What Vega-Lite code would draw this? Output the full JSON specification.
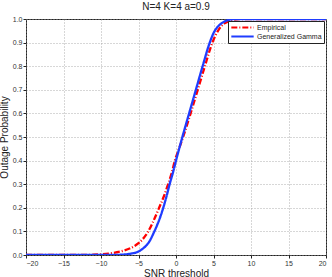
{
  "$schema": "https://vega.github.io/schema/vega-lite/v6.json",
  "width": 300,
  "height": 236,
  "autosize": {"type": "none"},
  "padding": {"left": 26, "top": 19, "right": 6, "bottom": 22},
  "background": "white",
  "title": {"text": "N=4 K=4 a=0.9", "font": "Liberation Sans", "fontSize": 10, "fontWeight": "normal", "color": "#222", "offset": 3},
  "config": {
    "view": {"stroke": "#222", "strokeWidth": 1},
    "axis": {
      "labelFont": "Liberation Sans", "labelFontSize": 7, "labelColor": "#333",
      "titleFont": "Liberation Sans", "titleFontSize": 10, "titleFontWeight": "normal", "titleColor": "#222",
      "gridColor": "#999", "gridDash": [1, 2], "gridWidth": 0.8,
      "domain": false, "tickColor": "#222", "tickSize": 3
    },
    "legend": {
      "fillColor": "white", "strokeColor": "#222",
      "padding": 2, "labelFont": "Liberation Sans", "labelFontSize": 7, "labelColor": "#222",
      "symbolType": "stroke", "symbolSize": 500, "symbolStrokeWidth": 2.2, "rowPadding": 0, "labelOffset": 2,
      "clipHeight": 9
    }
  },
  "data": {"values": [
    {"snr": -20, "p": 0, "s": "Empirical"},
    {"snr": -12, "p": 0, "s": "Empirical"},
    {"snr": -11, "p": 0.001, "s": "Empirical"},
    {"snr": -10, "p": 0.003, "s": "Empirical"},
    {"snr": -9, "p": 0.006, "s": "Empirical"},
    {"snr": -8, "p": 0.011, "s": "Empirical"},
    {"snr": -7, "p": 0.018, "s": "Empirical"},
    {"snr": -6, "p": 0.03, "s": "Empirical"},
    {"snr": -5, "p": 0.05, "s": "Empirical"},
    {"snr": -4.5, "p": 0.065, "s": "Empirical"},
    {"snr": -4, "p": 0.085, "s": "Empirical"},
    {"snr": -3.7, "p": 0.1, "s": "Empirical"},
    {"snr": -3, "p": 0.145, "s": "Empirical"},
    {"snr": -2.25, "p": 0.2, "s": "Empirical"},
    {"snr": -1.6, "p": 0.25, "s": "Empirical"},
    {"snr": -1.05, "p": 0.3, "s": "Empirical"},
    {"snr": -0.55, "p": 0.35, "s": "Empirical"},
    {"snr": -0.15, "p": 0.4, "s": "Empirical"},
    {"snr": 0.4, "p": 0.45, "s": "Empirical"},
    {"snr": 0.95, "p": 0.5, "s": "Empirical"},
    {"snr": 1.95, "p": 0.6, "s": "Empirical"},
    {"snr": 2.9, "p": 0.7, "s": "Empirical"},
    {"snr": 3.85, "p": 0.8, "s": "Empirical"},
    {"snr": 4.85, "p": 0.9, "s": "Empirical"},
    {"snr": 5.6, "p": 0.95, "s": "Empirical"},
    {"snr": 6.4, "p": 0.98, "s": "Empirical"},
    {"snr": 7, "p": 0.99, "s": "Empirical"},
    {"snr": 8.5, "p": 1, "s": "Empirical"},
    {"snr": 20, "p": 1, "s": "Empirical"},
    {"snr": -20, "p": 0, "s": "Generalized Gamma"},
    {"snr": -9, "p": 0, "s": "Generalized Gamma"},
    {"snr": -8, "p": 0.0005, "s": "Generalized Gamma"},
    {"snr": -7, "p": 0.002, "s": "Generalized Gamma"},
    {"snr": -6, "p": 0.006, "s": "Generalized Gamma"},
    {"snr": -5, "p": 0.015, "s": "Generalized Gamma"},
    {"snr": -4.5, "p": 0.025, "s": "Generalized Gamma"},
    {"snr": -4, "p": 0.039, "s": "Generalized Gamma"},
    {"snr": -3.5, "p": 0.06, "s": "Generalized Gamma"},
    {"snr": -3, "p": 0.092, "s": "Generalized Gamma"},
    {"snr": -2.5, "p": 0.128, "s": "Generalized Gamma"},
    {"snr": -2, "p": 0.17, "s": "Generalized Gamma"},
    {"snr": -1.7, "p": 0.2, "s": "Generalized Gamma"},
    {"snr": -1.25, "p": 0.25, "s": "Generalized Gamma"},
    {"snr": -0.85, "p": 0.3, "s": "Generalized Gamma"},
    {"snr": -0.4, "p": 0.35, "s": "Generalized Gamma"},
    {"snr": 0, "p": 0.4, "s": "Generalized Gamma"},
    {"snr": 0.85, "p": 0.5, "s": "Generalized Gamma"},
    {"snr": 1.75, "p": 0.6, "s": "Generalized Gamma"},
    {"snr": 2.65, "p": 0.7, "s": "Generalized Gamma"},
    {"snr": 3.55, "p": 0.8, "s": "Generalized Gamma"},
    {"snr": 4.5, "p": 0.9, "s": "Generalized Gamma"},
    {"snr": 5, "p": 0.94, "s": "Generalized Gamma"},
    {"snr": 5.5, "p": 0.965, "s": "Generalized Gamma"},
    {"snr": 6, "p": 0.98, "s": "Generalized Gamma"},
    {"snr": 6.5, "p": 0.99, "s": "Generalized Gamma"},
    {"snr": 7, "p": 0.996, "s": "Generalized Gamma"},
    {"snr": 7.5, "p": 0.999, "s": "Generalized Gamma"},
    {"snr": 8, "p": 1, "s": "Generalized Gamma"},
    {"snr": 20, "p": 1, "s": "Generalized Gamma"}
  ]},
  "mark": {"type": "line", "interpolate": "monotone", "clip": true, "strokeWidth": 2.3},
  "encoding": {
    "x": {"field": "snr", "type": "quantitative", "scale": {"domain": [-20, 20], "nice": false},
      "axis": {"values": [-20, -15, -10, -5, 0, 5, 10, 15, 20], "title": "SNR threshold", "titlePadding": 2, "labelPadding": 1}},
    "y": {"field": "p", "type": "quantitative", "scale": {"domain": [0, 1], "nice": false},
      "axis": {"values": [0, 0.1, 0.2, 0.3, 0.4, 0.5, 0.6, 0.7, 0.8, 0.9, 1], "title": "Outage Probability", "titlePadding": 3, "labelPadding": 1}},
    "color": {"field": "s", "type": "nominal", "title": null,
      "scale": {"domain": ["Empirical", "Generalized Gamma"], "range": ["#ff0000", "#1f3cff"]},
      "legend": {"orient": "top-right", "offset": 2}},
    "strokeDash": {"field": "s", "type": "nominal", "title": null,
      "scale": {"domain": ["Empirical", "Generalized Gamma"], "range": [[6, 2, 1, 2], [1, 0]]},
      "legend": {"orient": "top-right", "offset": 2}},
    "order": {"field": "snr", "type": "quantitative"}
  }
}
